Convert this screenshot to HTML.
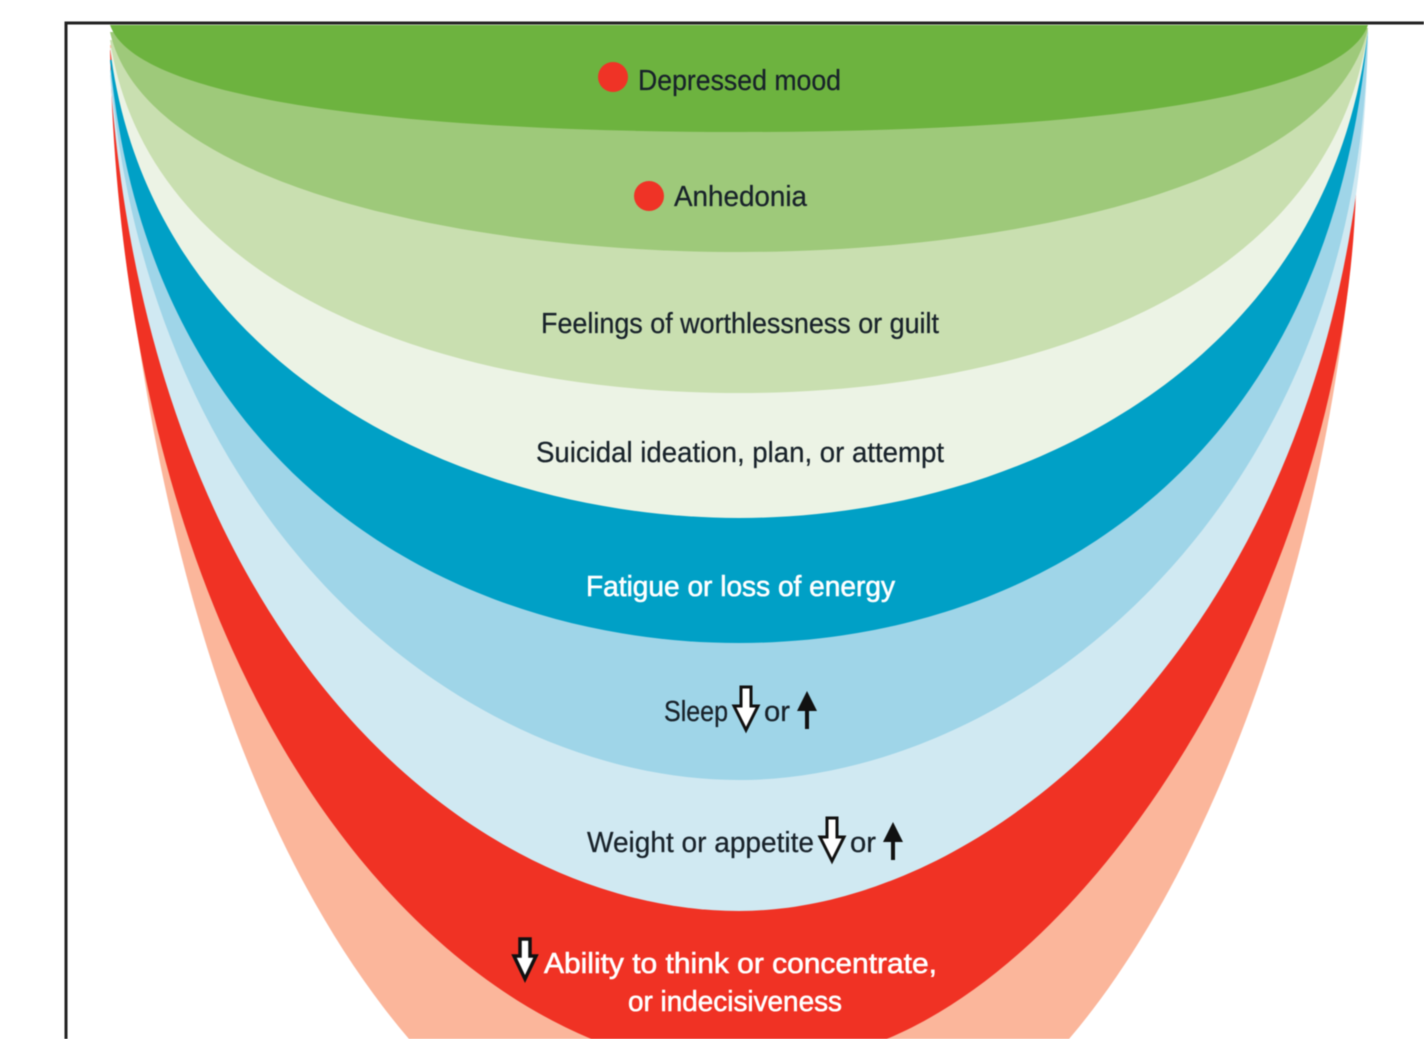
<!DOCTYPE html>
<html><head><meta charset="utf-8"><style>
html,body{margin:0;padding:0;background:#fff;width:1424px;height:1039px;overflow:hidden}
svg{display:block;filter:blur(.6px)}
text{font-family:"Liberation Sans",sans-serif;font-size:29px;fill:#18222a;stroke:#18222a;stroke-width:.25px}
text.w{fill:#fff;stroke:#fff;stroke-width:.6px}
</style></head><body>
<svg width="1424" height="1039" viewBox="0 0 1424 1039" xmlns="http://www.w3.org/2000/svg">
<rect width="1424" height="1039" fill="#fff"/>
<path d="M66 1039V23H1424" fill="none" stroke="#222" stroke-width="3"/>
<path fill="#fbb69b" d="M110 45C133.800 540.600 256.700 860.600 409 1039H1069C1221.300 860.600 1340 520 1356 185Z"/>
<path fill="#f03224" d="M110 50C122.300 617.900 358.200 941.900 591.300 1039H886.700C1119.800 941.900 1345 560 1356 190Z"/>
<path fill="#d0e9f2" d="M110 75C150 643 470 911 739 911C1008 911 1362 600 1368 30Z"/>
<path fill="#9fd5e8" d="M110 70C150 537 470 780 739 780C1008 780 1360 520 1368 30Z"/>
<path fill="#00a0c6" d="M110 60C150 490 470 643 739 643C1008 643 1328 490 1368 30Z"/>
<path fill="#ecf3e5" d="M110 48C150 373 470 518 739 518C1008 518 1328 373 1368 30Z"/>
<path fill="#c9dfb0" d="M110 40C150 303 470 393 739 393C1008 393 1328 303 1368 30Z"/>
<path fill="#9ec97a" d="M110 32C145 187 470 252 739 252C1008 252 1333 187 1368 28Z"/>
<path fill="#6db33f" d="M110 25C140 110 470 132 739 132C1008 132 1338 110 1368 25Z"/>
<circle cx="613" cy="77" r="15" fill="#ef3326"/>
<circle cx="649" cy="196" r="15" fill="#ef3326"/>
<text x="638" y="90" textLength="203" lengthAdjust="spacingAndGlyphs">Depressed mood</text>
<text x="674" y="206" textLength="133" lengthAdjust="spacingAndGlyphs">Anhedonia</text>
<text x="541" y="333" textLength="398" lengthAdjust="spacingAndGlyphs">Feelings of worthlessness or guilt</text>
<text x="536" y="462" textLength="408" lengthAdjust="spacingAndGlyphs">Suicidal ideation, plan, or attempt</text>
<text class="w" x="586" y="596" textLength="309" lengthAdjust="spacingAndGlyphs">Fatigue or loss of energy</text>
<text x="664" y="721" textLength="64" lengthAdjust="spacingAndGlyphs">Sleep</text>
<text x="764" y="721" textLength="26" lengthAdjust="spacingAndGlyphs">or</text>
<text x="587" y="852" textLength="227" lengthAdjust="spacingAndGlyphs">Weight or appetite</text>
<text x="850" y="852" textLength="26" lengthAdjust="spacingAndGlyphs">or</text>
<text class="w" x="544" y="973" textLength="393" lengthAdjust="spacingAndGlyphs">Ability to think or concentrate,</text>
<text class="w" x="628" y="1011" textLength="214" lengthAdjust="spacingAndGlyphs">or indecisiveness</text>
<path d="M741 687H751V706H758L746 730L734 706H741Z" fill="#fff" stroke="#111" stroke-width="3"/>
<path d="M827 818H837V837H844L832 861L820 837H827Z" fill="#fff" stroke="#111" stroke-width="3"/>
<path d="M520 939H530V956H536L525 979L514 956H520Z" fill="#fff" stroke="#111" stroke-width="3.500"/>
<path d="M807 691L817 711H809V729H805V711H797Z" fill="#111"/>
<path d="M893 822L903 842H895V860H891V842H883Z" fill="#111"/>
</svg>
</body></html>
